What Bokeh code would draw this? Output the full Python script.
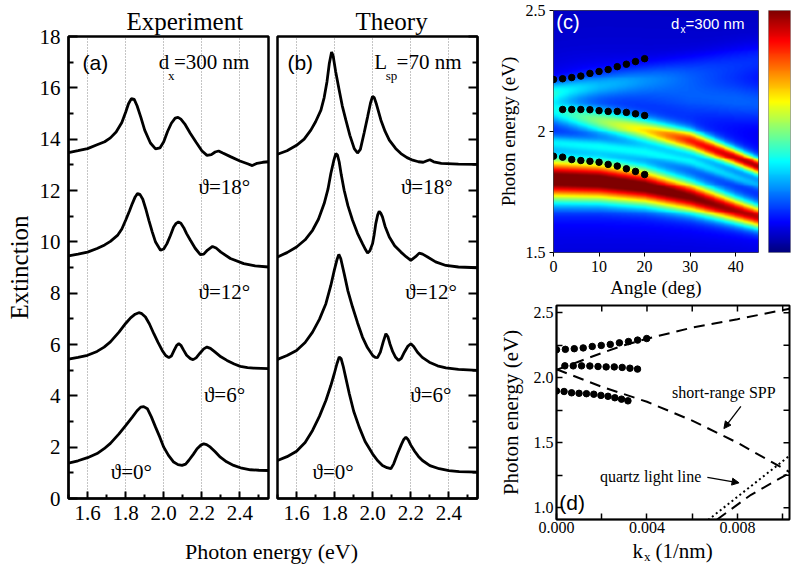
import numpy as np
from bokeh.plotting import figure
from bokeh.layouts import row, column
from bokeh.models import (Range1d, FixedTicker, Label, Arrow, NormalHead,
                          LinearColorMapper, PrintfTickFormatter, CustomJSTickFormatter)
from bokeh.embed import file_html
from bokeh.resources import INLINE

SERIF = "Liberation Serif"
SANS = "Liberation Sans"

# ---------------- panel (a): experiment spectra (offset curves) ----------------
a18_e = [1.50, 1.55, 1.60, 1.65, 1.69, 1.72, 1.75, 1.78, 1.80, 1.815, 1.83, 1.845, 1.86, 1.88, 1.90, 1.93,
         1.957, 1.98, 2.00, 2.02, 2.04, 2.06, 2.075, 2.09, 2.11, 2.14, 2.17, 2.20, 2.227, 2.25, 2.27, 2.288,
         2.31, 2.35, 2.40, 2.44, 2.465, 2.49, 2.52, 2.55]
a18_v = [13.48, 13.55, 13.63, 13.78, 13.90, 14.05, 14.28, 14.65, 15.05, 15.38, 15.58, 15.55, 15.3, 14.85,
         14.35, 13.85, 13.62, 13.66, 13.9, 14.3, 14.62, 14.82, 14.85, 14.78, 14.6, 14.22, 13.88, 13.55,
         13.37, 13.4, 13.5, 13.54, 13.46, 13.32, 13.15, 13.04, 12.97, 13.06, 13.1, 13.12]
a12_e = [1.50, 1.55, 1.60, 1.65, 1.69, 1.72, 1.757, 1.78, 1.80, 1.82, 1.835, 1.85, 1.862, 1.875, 1.89, 1.905,
         1.922, 1.94, 1.957, 1.983, 2.00, 2.017, 2.035, 2.052, 2.065, 2.077, 2.09, 2.105, 2.12, 2.14, 2.165,
         2.192, 2.21, 2.23, 2.256, 2.275, 2.30, 2.35, 2.42, 2.48, 2.55]
a12_v = [9.45, 9.52, 9.6, 9.74, 9.88, 10.02, 10.25, 10.5, 10.84, 11.2, 11.49, 11.75, 11.88, 11.85, 11.66,
         11.3, 10.84, 10.38, 9.99, 9.67, 9.72, 9.93, 10.25, 10.58, 10.72, 10.77, 10.72, 10.55, 10.32, 10.06,
         9.75, 9.5, 9.52, 9.68, 9.82, 9.76, 9.6, 9.35, 9.15, 9.06, 9.02]
a6_e = [1.50, 1.55, 1.60, 1.65, 1.687, 1.72, 1.765, 1.80, 1.826, 1.85, 1.869, 1.885, 1.904, 1.925, 1.948,
        1.97, 1.992, 2.01, 2.027, 2.04, 2.055, 2.068, 2.079, 2.09, 2.105, 2.12, 2.14, 2.154, 2.17, 2.19,
        2.21, 2.227, 2.245, 2.27, 2.30, 2.332, 2.37, 2.402, 2.44, 2.472, 2.55]
a6_v = [5.43, 5.5, 5.58, 5.73, 5.9, 6.1, 6.48, 6.82, 7.04, 7.18, 7.24, 7.2, 7.07, 6.8, 6.42, 6.08, 5.77,
        5.57, 5.49, 5.55, 5.78, 5.97, 6.03, 5.97, 5.77, 5.58, 5.45, 5.41, 5.48, 5.66, 5.83, 5.9, 5.85, 5.7,
        5.52, 5.38, 5.24, 5.15, 5.1, 5.08, 5.06]
a0_e = [1.50, 1.55, 1.60, 1.65, 1.687, 1.72, 1.765, 1.80, 1.835, 1.86, 1.879, 1.895, 1.914, 1.935, 1.957,
        1.98, 2.00, 2.025, 2.052, 2.075, 2.096, 2.115, 2.131, 2.155, 2.175, 2.195, 2.21, 2.225, 2.245, 2.27,
        2.297, 2.33, 2.367, 2.41, 2.455, 2.50, 2.55]
a0_v = [1.38, 1.47, 1.59, 1.75, 1.94, 2.15, 2.52, 2.84, 3.17, 3.42, 3.56, 3.58, 3.5, 3.18, 2.78, 2.38, 2.0,
        1.68, 1.42, 1.32, 1.29, 1.34, 1.48, 1.72, 1.94, 2.08, 2.13, 2.1, 2.0, 1.82, 1.61, 1.43, 1.29, 1.18,
        1.12, 1.1, 1.09]

# ---------------- panel (b): theory spectra ----------------
b18_e = [1.50, 1.55, 1.60, 1.64, 1.675, 1.70, 1.728, 1.745, 1.76, 1.772, 1.784, 1.792, 1.805, 1.824, 1.84,
         1.859, 1.88, 1.903, 1.92, 1.935, 1.955, 1.973, 1.988, 1.999, 2.008, 2.02, 2.043, 2.065, 2.087, 2.12,
         2.148, 2.18, 2.21, 2.24, 2.265, 2.285, 2.30, 2.32, 2.36, 2.45, 2.55]
b18_v = [13.41, 13.55, 13.76, 14.0, 14.35, 14.68, 15.13, 15.62, 16.25, 16.95, 17.4, 17.25, 16.65, 15.91,
         15.3, 14.74, 14.15, 13.63, 13.46, 13.6, 14.25, 14.87, 15.4, 15.67, 15.62, 15.35, 14.74, 14.3, 13.96,
         13.64, 13.44, 13.28, 13.18, 13.12, 13.1, 13.16, 13.2, 13.12, 13.06, 13.03, 13.02]
b12_e = [1.50, 1.55, 1.60, 1.645, 1.684, 1.715, 1.745, 1.765, 1.78, 1.795, 1.806, 1.815, 1.824, 1.835, 1.85,
         1.87, 1.894, 1.92, 1.946, 1.962, 1.973, 1.985, 1.999, 2.008, 2.016, 2.026, 2.034, 2.042, 2.051, 2.065,
         2.087, 2.115, 2.148, 2.175, 2.20, 2.225, 2.244, 2.262, 2.288, 2.33, 2.384, 2.45, 2.55]
b12_v = [9.41, 9.58, 9.8, 10.08, 10.45, 10.88, 11.49, 12.05, 12.66, 13.15, 13.44, 13.38, 13.11, 12.6, 12.01,
         11.4, 10.84, 10.33, 9.93, 9.7, 9.56, 9.65, 9.93, 10.3, 10.71, 11.05, 11.19, 11.12, 10.97, 10.6,
         10.19, 9.85, 9.6, 9.42, 9.28, 9.42, 9.56, 9.52, 9.41, 9.22, 9.08, 9.02, 8.99]
b6_e = [1.50, 1.55, 1.60, 1.645, 1.684, 1.72, 1.754, 1.78, 1.798, 1.812, 1.822, 1.832, 1.85, 1.87, 1.894,
        1.92, 1.946, 1.972, 1.999, 2.013, 2.025, 2.04, 2.055, 2.069, 2.08, 2.09, 2.105, 2.12, 2.136, 2.15,
        2.166, 2.185, 2.20, 2.215, 2.235, 2.26, 2.297, 2.34, 2.384, 2.45, 2.55]
b6_v = [5.42, 5.57, 5.77, 6.08, 6.48, 6.98, 7.59, 8.3, 8.89, 9.3, 9.51, 9.35, 8.76, 8.08, 7.46, 6.85, 6.29,
        5.88, 5.58, 5.5, 5.49, 5.7, 6.1, 6.42, 6.3, 6.03, 5.72, 5.5, 5.38, 5.46, 5.7, 5.94, 6.03, 5.92, 5.7,
        5.5, 5.31, 5.17, 5.09, 5.03, 4.99]
b0_e = [1.50, 1.55, 1.60, 1.645, 1.684, 1.72, 1.754, 1.78, 1.798, 1.812, 1.824, 1.834, 1.845, 1.86, 1.877,
        1.90, 1.929, 1.96, 1.999, 2.025, 2.051, 2.075, 2.095, 2.11, 2.13, 2.15, 2.163, 2.174, 2.185, 2.20,
        2.22, 2.24, 2.261, 2.30, 2.349, 2.40, 2.454, 2.55]
b0_v = [1.48, 1.63, 1.84, 2.18, 2.65, 3.2, 3.82, 4.4, 4.86, 5.25, 5.51, 5.45, 5.15, 4.65, 4.08, 3.4, 2.78,
        2.22, 1.74, 1.48, 1.29, 1.2, 1.16, 1.35, 1.74, 2.1, 2.3, 2.39, 2.3, 2.08, 1.84, 1.64, 1.48, 1.28,
        1.16, 1.09, 1.05, 1.03]

E_TICKS = [1.6, 1.8, 2.0, 2.2, 2.4]
E_MINOR = [1.5, 1.7, 1.9, 2.1, 2.3, 2.5]
EXT_TICKS = [0, 2, 4, 6, 8, 10, 12, 14, 16, 18]
EXT_MINOR = [1, 3, 5, 7, 9, 11, 13, 15, 17]

# ---------------- panel (c): measured peak positions and band map ----------------
dot_angles = [0, 2, 4, 6, 8, 10, 12, 14, 16, 18, 20]
dots_top = [2.215, 2.218, 2.223, 2.229, 2.24, 2.248, 2.256, 2.268, 2.278, 2.289, 2.301]
dots_mid_angles = [2, 4, 6, 8, 10, 12, 14, 16, 18, 20]
dots_mid = [2.091, 2.091, 2.091, 2.09, 2.086, 2.083, 2.083, 2.079, 2.073, 2.066]
dots_low = [1.898, 1.894, 1.884, 1.88, 1.877, 1.873, 1.864, 1.857, 1.846, 1.835, 1.822]

hm_angles = [0, 10, 20, 30, 40, 45]
hm_background = 0.95
bandA_center = [1.800, 1.793, 1.770, 1.728, 1.672, 1.645]
bandA_peak = [4.3, 4.3, 4.2, 4.0, 3.8, 3.7]
bandA_width = [0.058, 0.055, 0.050, 0.043, 0.035, 0.032]
bandB_center = [2.085, 2.045, 2.005, 1.962, 1.892, 1.855]
bandB_peak = [1.1, 1.7, 2.3, 3.2, 3.6, 3.7]
bandB_width = [0.035, 0.035, 0.033, 0.030, 0.025, 0.023]
bandC_center = [2.165, 2.19, 2.22, 2.25, 2.28, 2.295]
bandC_peak = [1.2, 0.7, 0.5, 0.4, 0.4, 0.4]
bandC_width = [0.030, 0.035, 0.040, 0.045, 0.050, 0.050]
bandD_center = [1.955, 1.94, 1.915, 1.875, 1.81, 1.78]
bandD_peak = [0.8, 0.8, 0.8, 0.8, 0.7, 0.6]
bandD_width = [0.020, 0.020, 0.020, 0.018, 0.016, 0.016]
bandE_center = [2.20, 2.19, 2.17, 2.15, 2.13, 2.12]
bandE_peak = [0.0, 0.2, 0.35, 0.5, 0.6, 0.6]
bandE_width = [0.06, 0.06, 0.06, 0.06, 0.06, 0.06]
HALO_FRACTION, HALO_SCALE = 0.15, 3.0
CBAR_LOW, CBAR_HIGH = 0.65, 5.6

# ---------------- panel (d): dispersion ----------------
HBARC = 197.327  # eV nm
spp_up_k = [0.0, 0.001, 0.002, 0.003, 0.004, 0.006, 0.008, 0.0103]
spp_up_e = [2.06, 2.125, 2.19, 2.25, 2.30, 2.385, 2.45, 2.53]
spp_down_k = [0.0, 0.002, 0.004, 0.006, 0.008, 0.0103]
spp_down_e = [2.065, 1.93, 1.815, 1.67, 1.50, 1.275]
spp_low_k = [0.0071, 0.0086, 0.0103]
spp_low_e = [0.91, 1.10, 1.268]
light_k = [0.0067, 0.0103]
light_e = [0.906, 1.40]
K_TICKS = [0.0, 0.004, 0.008]
K_MINOR = [0.002, 0.006, 0.010]
EN_TICKS = [1.0, 1.5, 2.0, 2.5]
EN_MINOR = [1.25, 1.75, 2.25]
K_MIN, K_MAX = 0.0, 0.0103
EN_MIN, EN_MAX = 0.91, 2.555


def base_fig(**kw):
    p = figure(output_backend="svg", toolbar_location=None, **kw)
    p.background_fill_color = "white"
    p.border_fill_color = "white"
    return p


def style_axis(ax, font_size, tick_in, minor_in, width=2.0):
    ax.major_label_text_font = SERIF
    ax.major_label_text_font_size = font_size
    ax.major_label_text_color = "black"
    ax.axis_line_color = "black"
    ax.axis_line_width = width
    ax.major_tick_in = tick_in
    ax.major_tick_out = 0
    ax.minor_tick_in = minor_in
    ax.minor_tick_out = 0
    ax.major_tick_line_width = width
    ax.minor_tick_line_width = width
    ax.major_tick_line_color = "black"
    ax.minor_tick_line_color = "black"
    ax.axis_label_text_font = SERIF
    ax.axis_label_text_font_style = "normal"
    ax.axis_label_text_color = "black"


def spectra_panel(title, title_offset, left_border, right_border, yloc):
    p = base_fig(width=left_border + 200 + right_border, height=539,
                 x_range=Range1d(1.5, 2.55), y_range=Range1d(0, 18),
                 min_border_left=left_border, min_border_right=right_border,
                 min_border_top=36, min_border_bottom=41, y_axis_location=yloc)
    p.title.text = title
    p.title.text_font = SERIF
    p.title.text_font_size = "25px"
    p.title.text_font_style = "normal"
    p.title.text_color = "black"
    p.title.align = "left"
    p.title.offset = title_offset
    p.title.standoff = 4
    p.outline_line_color = "black"
    p.outline_line_width = 2.5
    p.outline_line_alpha = 1
    ax = p.xaxis[0]
    ax.ticker = FixedTicker(ticks=E_TICKS, minor_ticks=E_MINOR)
    ax.formatter = PrintfTickFormatter(format="%.1f")
    style_axis(ax, "21px", 7, 4)
    ax.major_label_standoff = 7
    ay = p.yaxis[0]
    ay.ticker = FixedTicker(ticks=EXT_TICKS, minor_ticks=EXT_MINOR)
    style_axis(ay, "21px", 9, 5)
    p.xgrid.ticker = FixedTicker(ticks=E_TICKS)
    p.xgrid.grid_line_color = "#8a8a8a"
    p.xgrid.grid_line_dash = "1 2"
    p.xgrid.grid_line_width = 1
    p.ygrid.visible = False
    return p


def txt(p, x, y, text, size="21px", font=SERIF, color="black", align="left"):
    p.add_layout(Label(x=x, y=y, text=text, text_font=font, text_font_size=size,
                       text_color=color, text_baseline="middle", text_align=align))


# ---- (a)
fa = spectra_panel("Experiment", 58, 68, 4, "left")
fa.yaxis[0].major_label_standoff = 8
fa.yaxis[0].axis_label = "Extinction"
fa.yaxis[0].axis_label_text_font_size = "25px"
fa.yaxis[0].axis_label_standoff = 4
for e, v in [(a18_e, a18_v), (a12_e, a12_v), (a6_e, a6_v), (a0_e, a0_v)]:
    fa.line(e, v, line_width=2.8, color="black")
txt(fa, 1.574, 17.0, "(a)", font=SANS)
txt(fa, 1.974, 17.0, "d")
txt(fa, 2.022, 16.5, "x", size="13px")
txt(fa, 2.054, 17.0, "=300 nm")
txt(fa, 2.183, 12.14, "ϑ=18°")
txt(fa, 2.183, 8.04, "ϑ=12°")
txt(fa, 2.211, 4.02, "ϑ=6°")
txt(fa, 1.722, 1.03, "ϑ=0°")

# ---- (b)
fb = spectra_panel("Theory", 78, 5, 3, "right")
fb.yaxis[0].formatter = CustomJSTickFormatter(code="return '';")
fb.yaxis[0].major_label_standoff = 0
for e, v in [(b18_e, b18_v), (b12_e, b12_v), (b6_e, b6_v), (b0_e, b0_v)]:
    fb.line(e, v, line_width=2.8, color="black")
txt(fb, 1.552, 17.0, "(b)", font=SANS)
txt(fb, 2.008, 17.0, "L")
txt(fb, 2.068, 16.5, "sp", size="13px")
txt(fb, 2.125, 17.0, "=70 nm")
txt(fb, 2.148, 12.14, "ϑ=18°")
txt(fb, 2.171, 8.04, "ϑ=12°")
txt(fb, 2.197, 4.02, "ϑ=6°")
txt(fb, 1.684, 1.03, "ϑ=0°")

# ---- (c) heat map
xs = np.linspace(0, 45, 226)
ys = np.linspace(1.5, 2.5, 251)
EE = ys[:, None]
Z = np.full((ys.size, xs.size), hm_background)
for cen, pk, wd in [(bandA_center, bandA_peak, bandA_width), (bandB_center, bandB_peak, bandB_width),
                    (bandC_center, bandC_peak, bandC_width), (bandD_center, bandD_peak, bandD_width),
                    (bandE_center, bandE_peak, bandE_width)]:
    c = np.interp(xs, hm_angles, cen)[None, :]
    a = np.interp(xs, hm_angles, pk)[None, :]
    w = np.interp(xs, hm_angles, wd)[None, :]
    u = (EE - c) / w
    Z = Z + a * np.exp(-0.5 * u ** 2) + HALO_FRACTION * a / (1.0 + (u / HALO_SCALE) ** 2)

t = np.linspace(0, 1, 256)
r = np.clip(1.5 - np.abs(4 * t - 3), 0, 1)
g = np.clip(1.5 - np.abs(4 * t - 2), 0, 1)
b = np.clip(1.5 - np.abs(4 * t - 1), 0, 1)
JET = ["#%02x%02x%02x" % (int(rr * 255), int(gg * 255), int(bb * 255)) for rr, gg, bb in zip(r, g, b)]
mapper = LinearColorMapper(palette=JET, low=CBAR_LOW, high=CBAR_HIGH)

fc = base_fig(width=288, height=302, x_range=Range1d(0, 45), y_range=Range1d(1.5, 2.5),
              min_border_left=73, min_border_right=10, min_border_top=10, min_border_bottom=50)
fc.image(image=[Z], x=0, y=1.5, dw=45, dh=1.0, color_mapper=mapper)
fc.scatter(dot_angles, dots_top, size=6.5, color="black")
fc.scatter(dots_mid_angles, dots_mid, size=6.5, color="black")
fc.scatter(dot_angles, dots_low, size=6.5, color="black")
fc.grid.visible = False
fc.outline_line_color = "#444444"
fc.outline_line_width = 1
cx = fc.xaxis[0]
cx.ticker = FixedTicker(ticks=[0, 10, 20, 30, 40])
style_axis(cx, "16px", 0, 0, width=1)
cx.major_tick_out = 4
cx.major_label_standoff = 4
cx.axis_line_color = None
cx.axis_label = "Angle (deg)"
cx.axis_label_text_font_size = "19px"
cx.axis_label_standoff = 2
cy = fc.yaxis[0]
cy.ticker = FixedTicker(ticks=[1.5, 2.0, 2.5])
cy.formatter = CustomJSTickFormatter(code="return tick.toString();")
style_axis(cy, "16px", 0, 0, width=1)
cy.major_tick_out = 4
cy.major_label_standoff = 4
cy.axis_line_color = None
cy.axis_label = "Photon energy (eV)"
cy.axis_label_text_font_size = "19px"
cy.axis_label_standoff = 4
txt(fc, 0.6, 2.452, "(c)", size="20px", font=SANS, color="white")
txt(fc, 25.8, 2.445, "d", size="15px", font=SANS, color="white")
txt(fc, 27.9, 2.423, "x", size="10px", font=SANS, color="white")
txt(fc, 29.0, 2.445, "=300 nm", size="15px", font=SANS, color="white")

# colour bar as its own small figure
fcb = base_fig(width=23, height=302, x_range=Range1d(0, 1), y_range=Range1d(CBAR_LOW, CBAR_HIGH),
               x_axis_type=None, y_axis_type=None,
               min_border_left=0, min_border_right=1, min_border_top=9, min_border_bottom=49)
fcb.image(image=[np.linspace(CBAR_LOW, CBAR_HIGH, 256)[:, None]], x=0, y=CBAR_LOW, dw=1,
          dh=CBAR_HIGH - CBAR_LOW, color_mapper=mapper)
fcb.grid.visible = False
fcb.outline_line_color = "#9a9a9a"

# ---- (d) dispersion
fd = base_fig(width=311, height=237, x_range=Range1d(K_MIN, K_MAX), y_range=Range1d(EN_MIN, EN_MAX),
              min_border_left=76, min_border_right=2, min_border_top=3, min_border_bottom=20)
fd.grid.visible = False
fd.outline_line_color = "black"
fd.outline_line_width = 2
dx = fd.xaxis[0]
dx.ticker = FixedTicker(ticks=K_TICKS, minor_ticks=K_MINOR)
dx.formatter = PrintfTickFormatter(format="%.3f")
style_axis(dx, "16px", 6, 6, width=1.5)
dx.major_label_standoff = 2
dy = fd.yaxis[0]
dy.ticker = FixedTicker(ticks=EN_TICKS, minor_ticks=EN_MINOR)
dy.formatter = PrintfTickFormatter(format="%.1f")
style_axis(dy, "16px", 6, 6, width=1.5)
dy.major_label_standoff = 3
dy.axis_label = "Photon energy (eV)"
dy.axis_label_text_font_size = "21px"
dy.axis_label_standoff = 8
k_all = K_TICKS[1:] + K_MINOR
e_all = EN_TICKS + EN_MINOR
dk = 6.0 * (K_MAX - K_MIN) / 233.0
de = 6.0 * (EN_MAX - EN_MIN) / 214.0
fd.segment(x0=k_all, y0=[EN_MAX] * len(k_all), x1=k_all, y1=[EN_MAX - de] * len(k_all),
           line_color="black", line_width=1.5)
fd.segment(x0=[K_MAX] * len(e_all), y0=e_all, x1=[K_MAX - dk] * len(e_all), y1=e_all,
           line_color="black", line_width=1.5)

fd.line(spp_up_k, spp_up_e, line_width=2, color="black", line_dash="11 7")
fd.line(spp_down_k, spp_down_e, line_width=2, color="black", line_dash="11 7")
fd.line(spp_low_k, spp_low_e, line_width=2, color="black", line_dash="11 7")
fd.line(light_k, light_e, line_width=2, color="black", line_dash="2 3")

s_top = np.sin(np.radians(dot_angles))
s_mid = np.sin(np.radians(dots_mid_angles))
fd.scatter(np.array(dots_top) * s_top / HBARC, dots_top, size=6.5, color="black")
fd.scatter(np.array(dots_mid) * s_mid / HBARC, dots_mid, size=6.5, color="black")
fd.scatter(np.array(dots_low) * s_top / HBARC, dots_low, size=6.5, color="black")

txt(fd, 0.00511, 1.89, "short-range SPP", size="16px")
txt(fd, 0.00192, 1.238, "quartz light line", size="16px")
fd.add_layout(Arrow(end=NormalHead(size=7, fill_color="black", line_color="black"),
                    x_start=0.00815, y_start=1.78, x_end=0.0074, y_end=1.609,
                    line_width=1.3, line_color="black"))
fd.add_layout(Arrow(end=NormalHead(size=7, fill_color="black", line_color="black"),
                    x_start=0.00667, y_start=1.233, x_end=0.00807, y_end=1.192,
                    line_width=1.3, line_color="black"))
txt(fd, 0.00012, 1.04, "(d)", size="21px", font=SANS)

# ---- bottom strip holding the two x-axis titles
strip = base_fig(width=791, height=27, x_range=Range1d(0, 791), y_range=Range1d(0, 27),
                 x_axis_type=None, y_axis_type=None, min_border=0)
strip.outline_line_color = None
txt(strip, 271, 15, "Photon energy (eV)", size="22px", align="center")
txt(strip, 632, 16, "k", size="21px")
txt(strip, 643.5, 10, "x", size="13px")
txt(strip, 655, 16, "(1/nm)", size="21px")

top = row(row(fa, fb), column(row(fc, fcb), fd))
layout = column(top, strip)
open("out.html", "w").write(file_html(layout, INLINE))
